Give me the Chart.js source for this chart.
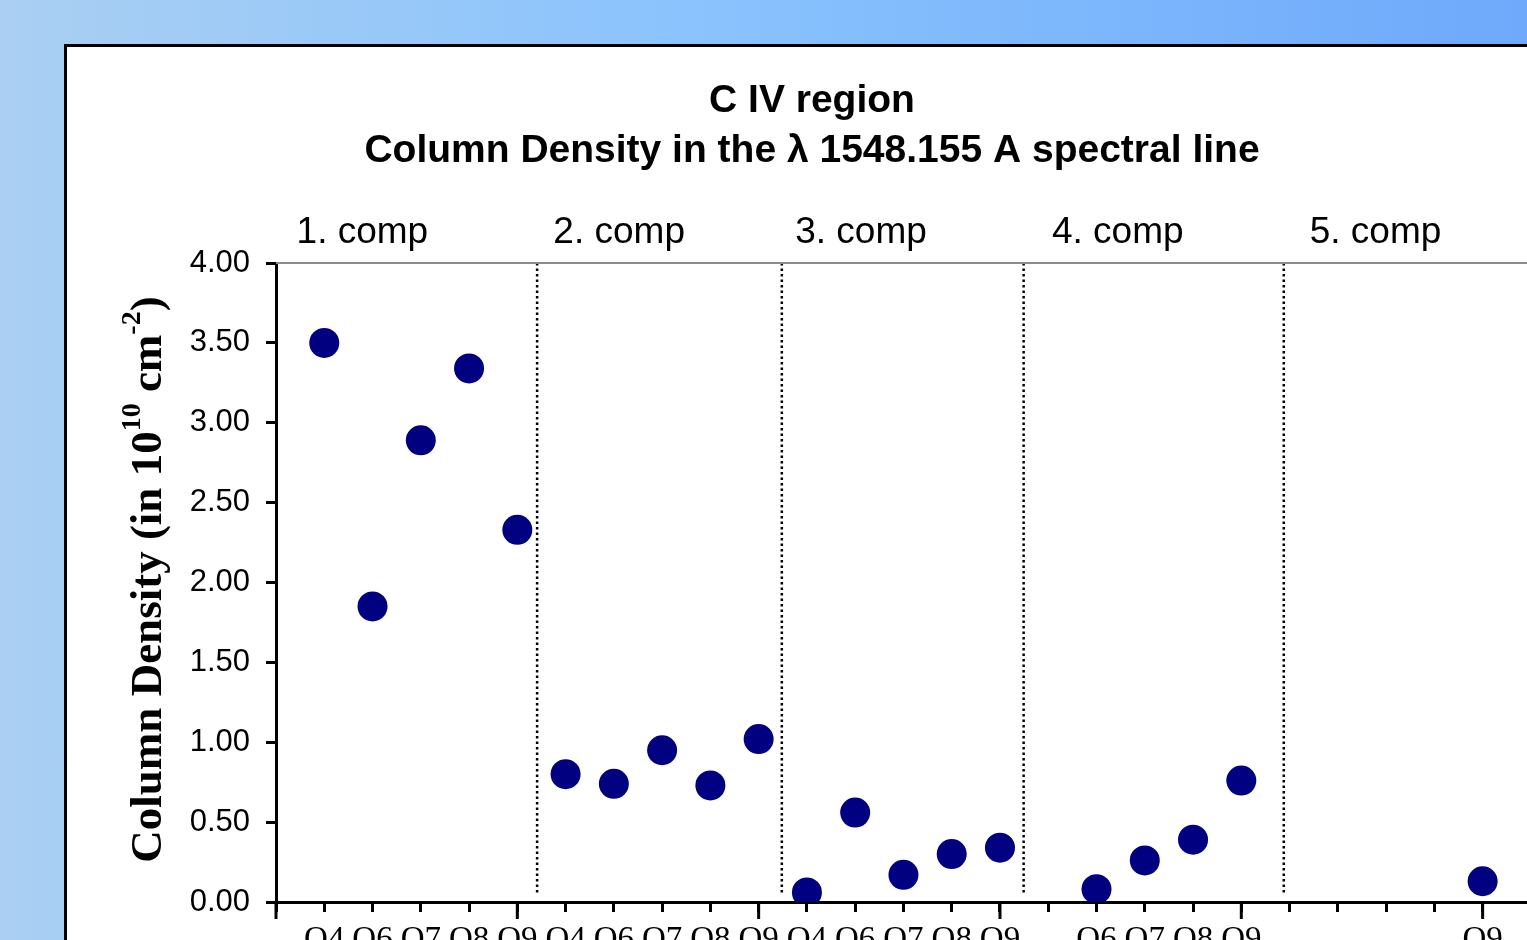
<!DOCTYPE html>
<html>
<head>
<meta charset="utf-8">
<title>C IV region - Column Density</title>
<script src="https://cdn.jsdelivr.net/npm/chart.js@4.4.0/dist/chart.umd.min.js"></script>
<style>
  html, body { margin: 0; padding: 0; width: 1527px; height: 940px; overflow: hidden; }
  body { position: relative; background: linear-gradient(to right, #aacff2 0%, #8ac3fd 45%, #6ea9fb 100%); }
  #frame { position: absolute; left: 64px; top: 44px; width: 1500px; height: 1000px; background: #fff; border: 3px solid #000; }
  #chart { position: absolute; left: 0; top: 0; }
</style>
</head>
<body>
<div id="frame"><canvas id="chart" width="1490" height="1000"></canvas></div>
<script>
// category labels along the x axis, position 0 .. 26
const categories = ['', 'Q4', 'Q6', 'Q7', 'Q8', 'Q9', 'Q4', 'Q6', 'Q7', 'Q8', 'Q9',
  'Q4', 'Q6', 'Q7', 'Q8', 'Q9', '', 'Q6', 'Q7', 'Q8', 'Q9', '', '', '', '', 'Q9', ''];

// column density (10^10 cm^-2), one per category position 1 .. 25
const densities = [3.50, 1.85, 2.89, 3.34, 2.33,
  0.80, 0.74, 0.95, 0.73, 1.02,
  0.06, 0.56, 0.17, 0.30, 0.34,
  null, 0.08, 0.26, 0.39, 0.76,
  null, null, null, null, 0.13];

// dotted dividers between the components (x axis units)
const dividers = [5.41, 10.48, 15.49, 20.88];
const compNames = ['1. comp', '2. comp', '3. comp', '4. comp', '5. comp'];
const compCenters = [1.79, 7.11, 12.12, 17.44, 22.78];

// y axis title pieces: [text, superscript?]
const yTitle = [['Column Density (in 10', false], ['10', true], [' cm', false], ['-2', true], [')', false]];

const sans = '"Liberation Sans", Arial, sans-serif';
const serif = '"Liberation Serif", "Times New Roman", serif';

const points = densities
  .map((v, i) => ({ x: i + 1, y: v }))
  .filter(p => p.y !== null);

const datasets = [{
  type: 'scatter',
  label: 'Column Density',
  data: points,
  backgroundColor: '#000080',
  borderWidth: 0,
  pointRadius: 15,
  pointHoverRadius: 15
}];

dividers.forEach(d => {
  datasets.push({
    type: 'line',
    data: [{ x: d, y: 4 }, { x: d, y: 0.04 }],
    borderColor: '#000',
    borderWidth: 2.5,
    borderDash: [2.5, 3],
    pointRadius: 0
  });
});

// plot border top, long ticks every 5th category, component labels, y title
const extras = {
  id: 'extras',
  afterDraw(chart) {
    const { ctx, chartArea, scales: { x } } = chart;
    ctx.save();
    ctx.strokeStyle = '#8c8c8c';
    ctx.lineWidth = 2;
    ctx.beginPath();
    ctx.moveTo(chartArea.left, chartArea.top);
    ctx.lineTo(chartArea.right, chartArea.top);
    ctx.stroke();

    ctx.strokeStyle = '#000';
    ctx.lineWidth = 3;
    ctx.beginPath();
    for (let v = 0; v <= 25; v += 5) {
      const px = x.getPixelForValue(v);
      ctx.moveTo(px, chartArea.bottom);
      ctx.lineTo(px, chartArea.bottom + 17);
    }
    ctx.stroke();

    ctx.fillStyle = '#000';
    ctx.font = '37px ' + sans;
    ctx.textAlign = 'center';
    ctx.textBaseline = 'alphabetic';
    compNames.forEach((name, i) => {
      ctx.fillText(name, x.getPixelForValue(compCenters[i]), chartArea.top - 20);
    });

    // rotated y axis title with real superscripts
    const mainFont = 'bold 45px ' + serif;
    const supFont = 'bold 28px ' + serif;
    let total = 0;
    yTitle.forEach(([t, sup]) => { ctx.font = sup ? supFont : mainFont; total += ctx.measureText(t).width; });
    ctx.translate(94, (chartArea.top + chartArea.bottom) / 2 - 3);
    ctx.rotate(-Math.PI / 2);
    ctx.textAlign = 'left';
    let pos = -total / 2;
    yTitle.forEach(([t, sup]) => {
      ctx.font = sup ? supFont : mainFont;
      ctx.fillText(t, pos, sup ? -21 : 0);
      pos += ctx.measureText(t).width;
    });
    ctx.restore();
  }
};

new Chart(document.getElementById('chart'), {
  data: { datasets },
  options: {
    responsive: false,
    animation: false,
    plugins: {
      legend: { display: false },
      tooltip: { enabled: false },
      title: {
        display: true,
        text: ['C IV region', 'Column Density in the λ 1548.155 A spectral line'],
        color: '#000',
        font: { family: sans, size: 39, weight: 'bold', lineHeight: 50 / 39 },
        padding: { top: 29, bottom: 87 }
      }
    },
    scales: {
      x: {
        type: 'linear',
        min: 0,
        max: 26.23,
        ticks: {
          stepSize: 1,
          autoSkip: false,
          maxRotation: 0,
          color: '#000',
          font: { family: serif, size: 33 },
          padding: 9,
          callback: v => categories[v] ?? ''
        },
        grid: { drawOnChartArea: false, tickLength: 10, tickWidth: 3, tickColor: '#000' },
        border: { color: '#000', width: 3 },
        afterFit(scale) { scale.height = 145; }
      },
      y: {
        min: 0,
        max: 4,
        ticks: {
          stepSize: 0.5,
          color: '#000',
          font: { family: sans, size: 31 },
          padding: 16,
          callback: v => v.toFixed(2)
        },
        grid: { drawOnChartArea: false, tickLength: 10, tickWidth: 3, tickColor: '#000' },
        border: { color: '#000', width: 3 },
        afterFit(scale) { scale.width = 209; }
      }
    }
  },
  plugins: [extras]
});
</script>
</body>
</html>
